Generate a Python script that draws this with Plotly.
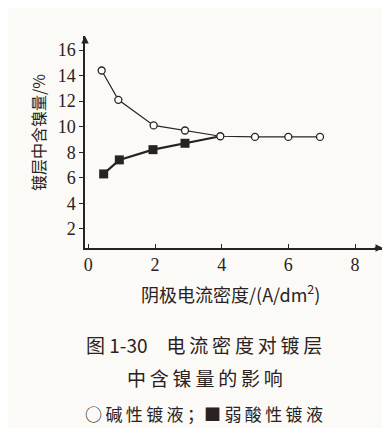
import plotly.graph_objects as go

# data
alk_x = [0.4, 0.9, 1.96, 2.9, 3.96, 5.0, 6.0, 6.95]
alk_y = [14.4, 12.1, 10.1, 9.7, 9.25, 9.2, 9.2, 9.2]
acid_x = [0.46, 0.93, 1.94, 2.9, 3.96]
acid_y = [6.3, 7.4, 8.2, 8.7, 9.25]
x_ticks = [0, 2, 4, 6, 8]
y_ticks = [2, 4, 6, 8, 10, 12, 14, 16]

ink = "#2a2222"
bg = "#fbfaf6"
L, R, T, B = 77, 15, 28, 188
W, H = 390, 428
serif = "Liberation Serif, serif"
cjk = "Noto Sans CJK SC"

fig = go.Figure()
fig.add_trace(go.Scatter(x=acid_x, y=acid_y, mode="lines",
                         line=dict(color=ink, width=2.2), showlegend=False))
fig.add_trace(go.Scatter(x=alk_x, y=alk_y, mode="lines+markers",
                         line=dict(color=ink, width=1.2),
                         marker=dict(symbol="circle", size=7, color="white",
                                     line=dict(color=ink, width=1.3)),
                         showlegend=False))
fig.add_trace(go.Scatter(x=acid_x[:-1], y=acid_y[:-1], mode="markers",
                         marker=dict(symbol="square", size=9, color=ink),
                         showlegend=False))

xr = [-0.1, 8.84]
yr = [0.5, 17.1]
axis_common = dict(ticklen=4, tickcolor=ink, showline=True, linecolor=ink, linewidth=1.5,
                   showgrid=False, zeroline=False,
                   tickfont=dict(family=serif, size=18, color=ink))
ann = []
ann.append(dict(x=xr[1], y=yr[0], ax=xr[1] - 0.3, ay=yr[0], xref="x", yref="y",
                axref="x", ayref="y", showarrow=True, arrowhead=2, arrowsize=1,
                arrowwidth=1.5, arrowcolor=ink, text=""))
ann.append(dict(x=xr[0], y=yr[1], ax=xr[0], ay=yr[1] - 0.6, xref="x", yref="y",
                axref="x", ayref="y", showarrow=True, arrowhead=2, arrowsize=1,
                arrowwidth=1.5, arrowcolor=ink, text=""))

def cap(text, px, py, size, angle=0, family=cjk):
    ann.append(dict(text=text, xref="paper", yref="paper", x=0, y=0,
                    xanchor="center", yanchor="middle", textangle=angle,
                    xshift=px - L, yshift=-(py - (H - B)), showarrow=False,
                    font=dict(family=family, size=size, color=ink)))

cap("镀层中含镍量/%", 30, 125, 16, angle=-90)
cap("阴极电流密度/(A/dm<sup>2</sup>)", 222, 285, 18)
cap("图 1-30\u2003电\u2009流\u2009密\u2009度\u2009对\u2009镀\u2009层", 196, 336, 19)
cap("中\u2009含\u2009镍\u2009量\u2009的\u2009影\u2009响", 197, 369, 19)
cap("○\u2009碱\u2009性\u2009镀\u2009液\u2009；■\u2009弱\u2009酸\u2009性\u2009镀\u2009液", 196, 405, 17)

fig.update_layout(
    width=W, height=H, margin=dict(l=L, r=R, t=T, b=B),
    paper_bgcolor=bg, plot_bgcolor=bg, annotations=ann,
    xaxis=dict(range=xr, tickmode="array", tickvals=x_ticks, ticks="inside", **axis_common),
    yaxis=dict(range=yr, tickmode="array", tickvals=y_ticks, ticks="outside", **axis_common),
)
fig.write_html("out.html")
